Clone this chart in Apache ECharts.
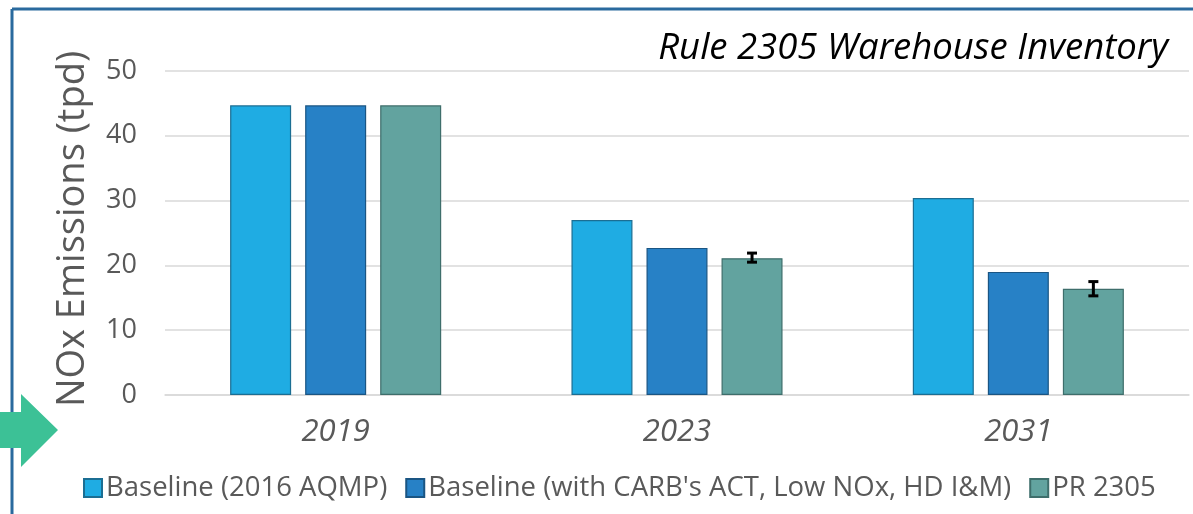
<!DOCTYPE html>
<html><head><meta charset="utf-8">
<script src="https://cdn.jsdelivr.net/npm/echarts@6/dist/echarts.min.js"></script>
<style>html,body{margin:0;padding:0;background:#fff}#c{width:1193px;height:514px}</style>
</head><body><div id="c"></div>
<script>
const categories = ['2019', '2023', '2031'];
const seriesNames = ['Baseline (2016 AQMP)', "Baseline (with CARB's ACT, Low NOx, HD I&M)", 'PR 2305'];
const baseline2016 = [44.7, 27.0, 30.4];
const baselineCarb = [44.7, 22.7, 19.0];
const pr2305 = [44.7, 21.1, 16.4];
const prErrorLow = [null, 20.5, 15.3];
const prErrorHigh = [null, 21.9, 17.5];
const yTicks = [0, 10, 20, 30, 40, 50];

const chart = echarts.init(document.getElementById('c'), null, {renderer: 'canvas'});
const font = '"Open Sans", "Noto Sans", sans-serif';
const colors = ['#1FACE3', '#2781C6', '#62A39F'];
const borders = ['#1B6E93', '#1A5583', '#3E6E6B'];
const BW = 61;

const errData = categories.map((c, i) => prErrorLow[i] == null ? null : [i, prErrorLow[i], prErrorHigh[i]]).filter(d => d);

chart.setOption({
  animation: false,
  textStyle: {fontFamily: font},
  title: {
    text: 'Rule 2305 Warehouse Inventory',
    right: 20, top: 25,
    textStyle: {fontFamily: font, fontStyle: 'italic', fontWeight: 'normal', fontSize: 36.5, color: '#000'}
  },
  legend: {
    data: seriesNames,
    bottom: 12, left: 83, padding: 0,
    itemWidth: 18, itemHeight: 18, itemGap: 18,
    icon: 'rect',
    textStyle: {fontFamily: font, fontSize: 27.5, color: '#595959', padding: [0, 0, 0, -1]}
  },
  grid: {left: 165, right: 4, top: 71, bottom: 119, containLabel: false},
  xAxis: {
    type: 'category', data: categories,
    axisLine: {show: true, lineStyle: {color: '#D9D9D9', width: 1.5}},
    axisTick: {show: false},
    axisLabel: {fontFamily: font, fontStyle: 'italic', fontSize: 31, color: '#595959', margin: 22}
  },
  yAxis: {
    type: 'value', min: yTicks[0], max: yTicks[yTicks.length - 1], interval: 10,
    name: 'NOx Emissions (tpd)', nameLocation: 'middle', nameGap: 73,
    nameTextStyle: {fontFamily: font, fontSize: 38, color: '#595959', padding: [0, 0, 0, 8]},
    axisLine: {show: false}, axisTick: {show: false},
    axisLabel: {fontFamily: font, fontSize: 27, color: '#595959', margin: 28},
    splitLine: {lineStyle: {color: '#D9D9D9', width: 1.5}}
  },
  series: [
    {name: seriesNames[0], type: 'bar', data: baseline2016, barWidth: BW, barGap: '23%',
      itemStyle: {color: colors[0], borderColor: borders[0], borderWidth: 1.2}},
    {name: seriesNames[1], type: 'bar', data: baselineCarb, barWidth: BW, barGap: '23%',
      itemStyle: {color: colors[1], borderColor: borders[1], borderWidth: 1.2}},
    {name: seriesNames[2], type: 'bar', data: pr2305, barWidth: BW, barGap: '23%',
      itemStyle: {color: colors[2], borderColor: borders[2], borderWidth: 1.2}},
    {
      type: 'custom', name: 'err', data: errData, z: 10,
      encode: {x: 0, y: [1, 2]},
      renderItem: function (params, api) {
        const idx = api.value(0);
        const lay = api.barLayout({barWidth: BW, barGap: '23%', count: 3});
        const off = lay[2].offsetCenter;
        const lo = api.coord([idx, api.value(1)]);
        const hi = api.coord([idx, api.value(2)]);
        const x = lo[0] + off;
        const cap = 5;
        const st = {stroke: '#000', lineWidth: 3};
        return {type: 'group', children: [
          {type: 'line', shape: {x1: x, y1: lo[1], x2: x, y2: hi[1]}, style: st},
          {type: 'line', shape: {x1: x - cap, y1: lo[1], x2: x + cap, y2: lo[1]}, style: st},
          {type: 'line', shape: {x1: x - cap, y1: hi[1], x2: x + cap, y2: hi[1]}, style: st}
        ]};
      }
    }
  ],
  graphic: [
    {type: 'line', shape: {x1: 12, y1: 9, x2: 1193, y2: 9}, style: {stroke: '#2A6A9E', lineWidth: 3}},
    {type: 'line', shape: {x1: 12, y1: 9, x2: 12, y2: 514}, style: {stroke: '#2A6A9E', lineWidth: 3}},
    {type: 'polygon', z: 100, shape: {points: [[0, 412], [21, 412], [21, 394], [58, 430], [21, 467], [21, 448], [0, 448]]},
      style: {fill: '#3CC196'}}
  ]
});
</script></body></html>
